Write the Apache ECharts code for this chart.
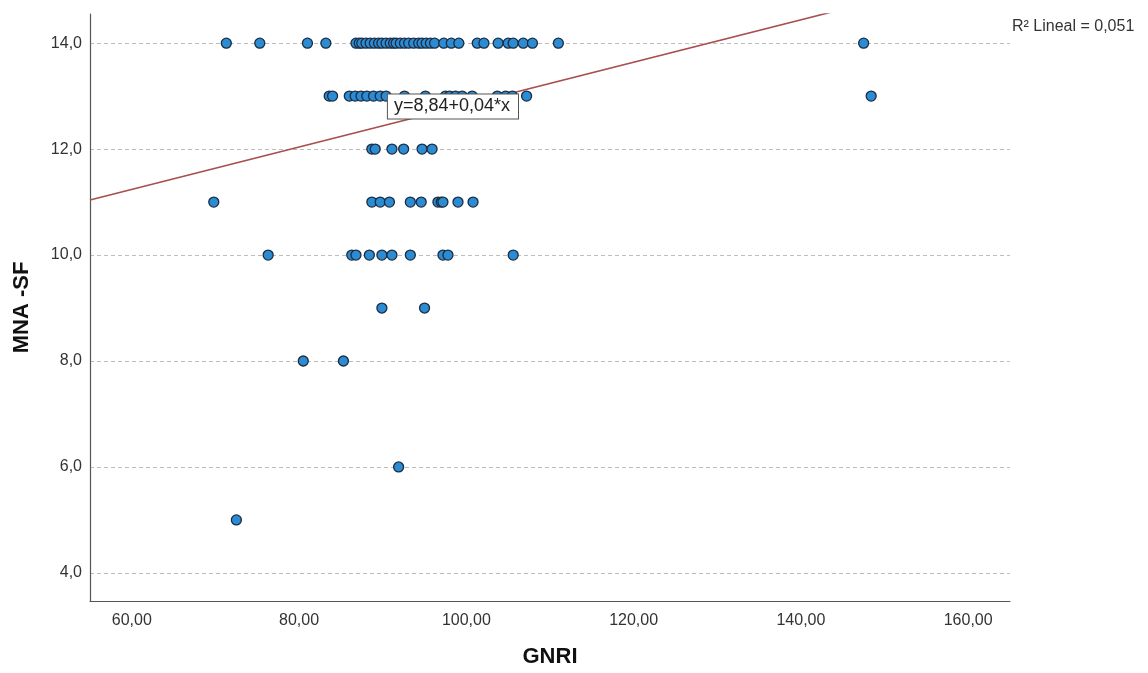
<!DOCTYPE html>
<html>
<head>
<meta charset="utf-8">
<title>GNRI vs MNA-SF</title>
<script src="https://cdn.jsdelivr.net/npm/echarts@6/dist/echarts.min.js"></script>
<style>
  html, body { margin: 0; padding: 0; background: #fff; }
  #chart { width: 1148px; height: 673px; }
</style>
</head>
<body>
<div id="chart"></div>
<script>
// GNRI values of the patients, grouped by their MNA-SF score
const gnriAt14 = [71.3, 75.3, 81.0, 83.2, 86.8, 87.2, 87.5, 88.0, 88.5, 89.0, 89.5, 89.9,
  90.4, 90.9, 91.3, 91.6, 92.1, 92.6, 93.1, 93.7, 94.3, 94.7, 95.2, 95.7, 96.2,
  97.3, 98.2, 99.1, 101.3, 102.1, 103.8, 105.0, 105.6, 106.8, 107.9, 111.0, 147.5];
const gnriAt13 = [83.6, 84.0, 86.0, 86.7, 87.4, 88.1, 88.9, 89.7, 90.4, 92.6, 95.1,
  97.5, 98.0, 98.7, 99.5, 100.7, 103.7, 104.7, 105.5, 107.2, 148.4];
const gnriAt12 = [88.7, 89.1, 91.1, 92.5, 94.7, 95.9];
const gnriAt11 = [69.8, 88.7, 89.7, 90.8, 93.3, 94.6, 96.6, 97.0, 97.2, 99.0, 100.8];
const gnriAt10 = [76.3, 86.3, 86.8, 88.4, 89.9, 91.1, 93.3, 97.2, 97.8, 105.6];
const gnriAt9 = [89.9, 95.0];
const gnriAt8 = [80.5, 85.3];
const gnriAt6 = [91.9];
const gnriAt5 = [72.5];

// Linear fit reported by the model
const fitIntercept = 8.84;
const fitSlope = 0.04;
const fitR2 = '0,051';

// Axis ranges and tick labels
const xRange = [55, 165];
const yRange = [3.47, 14.55];
const xTicks = [60, 80, 100, 120, 140, 160];
const yTicks = [4, 6, 8, 10, 12, 14];

const groups = [
  [14, gnriAt14], [13, gnriAt13], [12, gnriAt12], [11, gnriAt11], [10, gnriAt10],
  [9, gnriAt9], [8, gnriAt8], [6, gnriAt6], [5, gnriAt5]
];
const points = [];
groups.forEach(([score, list]) => list.forEach(g => points.push([g, score])));

const fitLine = xRange.map(x => [x, fitIntercept + fitSlope * x]);

const FONT = "'Liberation Sans', 'DejaVu Sans', sans-serif";
const chart = echarts.init(document.getElementById('chart'), null, { renderer: 'canvas' });

chart.setOption({
  animation: false,
  backgroundColor: '#ffffff',
  grid: { left: 90, right: 138, top: 14, bottom: 72, outerBoundsMode: 'none' },
  xAxis: {
    type: 'value',
    min: xRange[0],
    max: xRange[1],
    name: 'GNRI',
    nameLocation: 'middle',
    nameGap: 45,
    nameTextStyle: { fontFamily: FONT, fontSize: 22, fontWeight: 'bold', color: '#111' },
    axisLine: { show: true, lineStyle: { color: '#555', width: 1.2 } },
    axisTick: { show: false, customValues: xTicks },
    axisLabel: {
      customValues: xTicks,
      margin: 12,
      fontFamily: FONT, fontSize: 16, color: '#333',
      formatter: v => v.toFixed(2).replace('.', ',')
    },
    splitLine: { show: false }
  },
  yAxis: {
    type: 'value',
    min: yRange[0],
    max: yRange[1],
    name: 'MNA -SF',
    nameLocation: 'middle',
    nameGap: 57,
    nameRotate: 90,
    nameTextStyle: { fontFamily: FONT, fontSize: 22, fontWeight: 'bold', color: '#111' },
    axisLine: { show: true, lineStyle: { color: '#555', width: 1.2 } },
    axisTick: { show: false, customValues: yTicks },
    axisLabel: {
      customValues: yTicks,
      margin: 8,
      fontFamily: FONT, fontSize: 16, color: '#333',
      formatter: v => v.toFixed(1).replace('.', ',')
    },
    splitLine: { show: true, lineStyle: { color: '#bdbdbd', type: [4, 3], width: 1 } }
  },
  series: [
    {
      name: 'Ajuste lineal',
      type: 'line',
      data: fitLine,
      symbol: 'none',
      clip: true,
      z: 3,
      lineStyle: { color: '#a84e4f', width: 1.6 }
    },
    {
      name: 'Pacientes',
      type: 'scatter',
      data: points,
      symbol: 'circle',
      symbolSize: 10,
      z: 4,
      itemStyle: { color: '#2b8bd3', borderColor: '#1b2c40', borderWidth: 1.3, opacity: 1 }
    }
  ]
});

// Equation box next to the fitted line, and the R² note at the top right
function placeAnnotations() {
  const eqPos = chart.convertToPixel({ gridIndex: 0 }, [90.5, 13.05]);
  chart.setOption({
    graphic: [
      {
        type: 'text',
        id: 'equation',
        left: eqPos[0],
        top: eqPos[1],
        z: 10,
        style: {
          text: 'y=' + String(fitIntercept).replace('.', ',') + '+' +
                fitSlope.toFixed(2).replace('.', ',') + '*x',
          fontFamily: FONT,
          fontSize: 18,
          fill: '#222',
          backgroundColor: '#ffffff',
          borderColor: '#555',
          borderWidth: 1,
          padding: [3, 8, 3, 6]
        }
      },
      {
        type: 'text',
        id: 'rsq',
        left: 1012,
        top: 19,
        z: 10,
        style: {
          text: 'R\u00B2 Lineal = ' + fitR2,
          fontFamily: FONT,
          fontSize: 16,
          fill: '#333'
        }
      }
    ]
  });
}
placeAnnotations();
</script>
</body>
</html>
